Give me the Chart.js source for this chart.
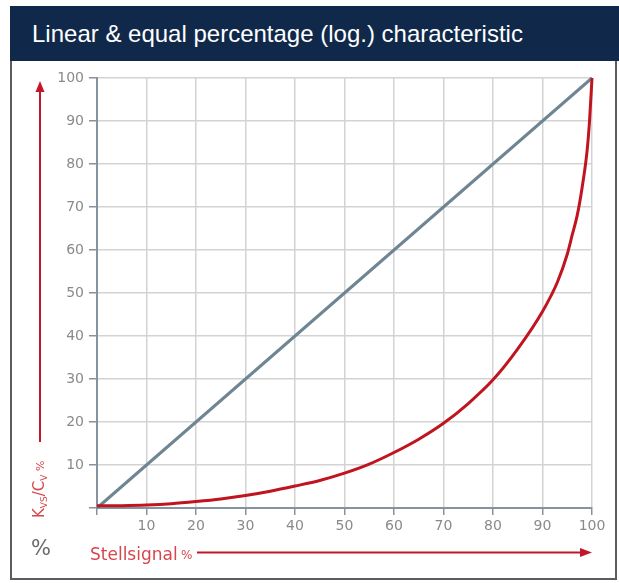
<!DOCTYPE html>
<html lang="en">
<head>
    <meta charset="UTF-8">
    <title>Linear & equal percentage (log.) characteristic</title>
    <style>
        html, body { margin: 0; padding: 0; background: #fff; }
        #wrap { position: relative; width: 619px; height: 583px; overflow: hidden; }
        #frame { position: absolute; left: 10px; top: 58px; width: 603px; height: 520px;
                 border-left: 2px solid #5a5d62; border-right: 2px solid #5a5d62; border-bottom: 2px solid #5a5d62; }
        #title { position: absolute; left: 10px; top: 6px; width: 609px; height: 55px; background: #10294a;
                 color: #fff; font-family: "Liberation Sans", Arial, sans-serif; font-size: 24px;
                 line-height: 55px; padding-left: 22px; box-sizing: border-box; }
        canvas { position: absolute; left: 0; top: 0; }
    </style>
    <script src="https://cdn.jsdelivr.net/npm/chart.js@4.4.2/dist/chart.umd.min.js"></script>
</head>
<body>
<div id="wrap">
    <div id="frame"></div>
    <div id="title">Linear &amp; equal percentage (log.) characteristic</div>
    <div style="position:absolute;left:0;top:0;width:619px;height:583px;">
        <canvas id="chart"></canvas>
    </div>
</div>
<script>
    // Stellsignal in % (x) and Kvs/Cv in % (y)
    const linearX = [0, 100];
    const linearY = [0, 100];
    const equalX = [0, 5, 10, 15, 20, 25, 30, 35, 40, 45, 50, 55, 60, 65, 70, 75, 80, 85, 90, 93, 95, 96, 97, 98, 99, 99.5, 100];
    const equalY = [0.5, 0.55, 0.7, 1.0, 1.5, 2.1, 2.9, 3.9, 5.1, 6.4, 8.1, 10.2, 12.9, 16.0, 19.7, 24.3, 29.8, 37.0, 45.7, 52.5, 59, 63.5, 68, 74.5, 83, 90, 100];
    const tickValues = [10, 20, 30, 40, 50, 60, 70, 80, 90, 100];

    const toPoints = (xs, ys) => xs.map((x, i) => ({ x: x, y: ys[i] }));

    const axisGray = '#8593a0';
    const arrowRed = '#c2172a';
    const textRed = '#d4474d';

    // Pfeile und Achsenbeschriftungen ausserhalb des Diagramms
    const decorations = {
        id: 'decorations',
        afterDraw(chart) {
            const ctx = chart.ctx;
            const area = chart.chartArea;
            ctx.save();

            // senkrechter Pfeil links
            ctx.strokeStyle = arrowRed;
            ctx.fillStyle = arrowRed;
            ctx.lineWidth = 2;
            ctx.beginPath();
            ctx.moveTo(40, 442);
            ctx.lineTo(40, 90);
            ctx.stroke();
            ctx.beginPath();
            ctx.moveTo(40, area.top + 3);
            ctx.lineTo(35.5, 92);
            ctx.lineTo(44.5, 92);
            ctx.closePath();
            ctx.fill();

            // waagerechter Pfeil unten
            ctx.beginPath();
            ctx.moveTo(197, 552.5);
            ctx.lineTo(582, 552.5);
            ctx.stroke();
            ctx.beginPath();
            ctx.moveTo(area.right, 552.5);
            ctx.lineTo(580, 548);
            ctx.lineTo(580, 557);
            ctx.closePath();
            ctx.fill();

            // "Stellsignal %"
            ctx.fillStyle = textRed;
            ctx.font = '17px "DejaVu Sans"';
            ctx.textBaseline = 'alphabetic';
            ctx.textAlign = 'left';
            ctx.fillText('Stellsignal', 90, 560);
            ctx.font = '12px "DejaVu Sans"';
            ctx.fillText('%', 181, 559);

            // "%" links unten
            ctx.fillStyle = '#6a6a6a';
            ctx.font = '21px "DejaVu Sans"';
            ctx.textAlign = 'center';
            ctx.textBaseline = 'middle';
            ctx.fillText('%', 41, 550);

            // "Kvs/Cv %" gedreht
            ctx.translate(44, 518);
            ctx.rotate(-Math.PI / 2);
            ctx.fillStyle = textRed;
            ctx.textAlign = 'left';
            ctx.textBaseline = 'alphabetic';
            const parts = [
                ['K', 15, 0], ['VS', 9, 3], ['/C', 15, 0], ['V', 9, 3], [' %', 11, 0]
            ];
            let px = 0;
            parts.forEach(([t, size, dy]) => {
                ctx.font = size + 'px "DejaVu Sans"';
                ctx.fillText(t, px, dy);
                px += ctx.measureText(t).width;
            });
            ctx.restore();
        }
    };

    new Chart(document.getElementById('chart'), {
        type: 'line',
        data: {
            datasets: [
                {
                    label: 'equal percentage',
                    data: toPoints(equalX, equalY),
                    borderColor: '#c0141f',
                    borderWidth: 3,
                    pointRadius: 0,
                    cubicInterpolationMode: 'monotone',
                    clip: false
                },
                {
                    label: 'linear',
                    data: toPoints(linearX, linearY),
                    borderColor: '#6f8593',
                    borderWidth: 3,
                    pointRadius: 0,
                    clip: false
                }
            ]
        },
        options: {
            responsive: true,
            maintainAspectRatio: false,
            animation: false,
            layout: { padding: { left: 47, right: 27, top: 78, bottom: 45 } },
            plugins: {
                legend: { display: false },
                tooltip: { enabled: false }
            },
            scales: {
                x: {
                    type: 'linear',
                    min: 0,
                    max: 100,
                    afterFit(scale) { scale.height = 30; },
                    afterBuildTicks(scale) { scale.ticks = [0].concat(tickValues).map(v => ({ value: v })); },
                    ticks: {
                        color: '#8a8a8a',
                        font: { family: 'DejaVu Sans', size: 14 },
                        padding: 3,
                        maxRotation: 0,
                        callback: v => (v === 0 ? '' : v)
                    },
                    grid: { color: '#d3d3d3', lineWidth: 1.5, tickLength: 7, tickColor: axisGray },
                    border: { color: axisGray, width: 2 }
                },
                y: {
                    type: 'linear',
                    min: 0,
                    max: 100,
                    afterFit(scale) { scale.width = 50; },
                    afterBuildTicks(scale) { scale.ticks = [0].concat(tickValues).map(v => ({ value: v })); },
                    ticks: {
                        color: '#8a8a8a',
                        font: { family: 'DejaVu Sans', size: 14 },
                        padding: 5,
                        callback: v => (v === 0 ? '' : v)
                    },
                    grid: { color: '#d3d3d3', lineWidth: 1.5, tickLength: 8, tickColor: axisGray },
                    border: { color: axisGray, width: 2 }
                }
            }
        },
        plugins: [decorations]
    });
</script>
</body>
</html>
